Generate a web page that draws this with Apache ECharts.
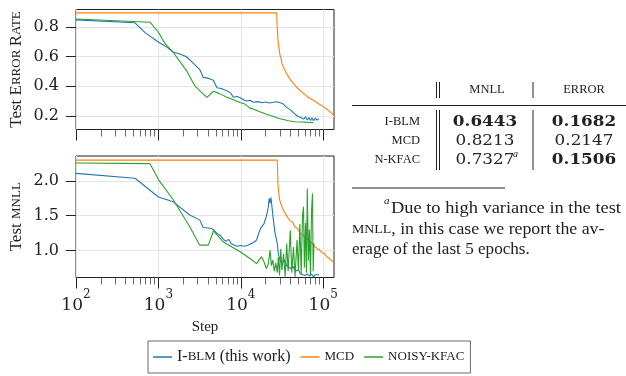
<!DOCTYPE html>
<html><head><meta charset="utf-8">
<script src="https://cdn.jsdelivr.net/npm/echarts@6/dist/echarts.min.js"></script>
<style>html,body{margin:0;padding:0;background:#fff}#c{width:626px;height:376px}</style>
</head><body><div id="c"></div><script>
// ---------- data ----------
const seriesNames = ['I-BLM (this work)', 'MCD', 'NOISY-KFAC'];
const xMin = 100, xMax = 135000;
const majorTicks = [100, 1000, 10000, 100000];
const minorTicks = [200,300,400,500,600,700,800,900,2000,3000,4000,5000,6000,7000,8000,9000,20000,30000,40000,50000,60000,70000,80000,90000];
const errorTicks = [0.2, 0.4, 0.6, 0.8];
const mnllTicks = [1.0, 1.5, 2.0];
const errorRange = [0.107, 0.92];
const mnllRange = [0.61, 2.36];

const iblmError = [[100,0.850],[520,0.830],[700,0.760],[1000,0.700],[1300,0.660],[1514,0.630],[1800,0.620],[2188,0.600],[2600,0.560],[3162,0.515],[3508,0.460],[4000,0.455],[4645,0.440],[5129,0.390],[5800,0.385],[6761,0.370],[7500,0.355],[8128,0.325],[9000,0.330],[10000,0.320],[11000,0.305],[11750,0.300],[13000,0.305],[14125,0.292],[16000,0.296],[18000,0.288],[20000,0.293],[22000,0.286],[25000,0.292],[27230,0.295],[30000,0.288],[32810,0.280],[35000,0.262],[37000,0.270],[40000,0.240],[42000,0.250],[43650,0.220],[46000,0.228],[48000,0.200],[50000,0.212],[52480,0.190],[55000,0.198],[58000,0.178],[61000,0.192],[64000,0.172],[67000,0.188],[70000,0.168],[73000,0.186],[76000,0.166],[80000,0.184],[84000,0.170],[88000,0.180]];
const mcdError = [[100,0.897],[27200,0.897],[27700,0.780],[28500,0.687],[29300,0.640],[30000,0.605],[30800,0.585],[31600,0.550],[32500,0.545],[33500,0.520],[34500,0.512],[36000,0.484],[37500,0.478],[39000,0.452],[40500,0.458],[42000,0.430],[44000,0.428],[46000,0.402],[48000,0.398],[50500,0.378],[53000,0.384],[55500,0.358],[58000,0.362],[61000,0.340],[64000,0.346],[67000,0.322],[70000,0.328],[74000,0.308],[78000,0.316],[82000,0.292],[86000,0.300],[90000,0.278],[95000,0.284],[100000,0.262],[105000,0.268],[110000,0.246],[115000,0.250],[120000,0.228],[125000,0.232],[130000,0.210],[135000,0.205]];
const nkfacError = [[100,0.856],[790,0.834],[1000,0.766],[1200,0.690],[1514,0.630],[1800,0.570],[2188,0.506],[2754,0.405],[3300,0.360],[3890,0.325],[4645,0.366],[5500,0.350],[6761,0.325],[8000,0.310],[9772,0.290],[11000,0.282],[12900,0.252],[14125,0.246],[17000,0.228],[20400,0.210],[25000,0.195],[29000,0.182],[32810,0.175],[38000,0.166],[45000,0.160],[55000,0.158],[65000,0.155],[76000,0.154]];

const iblmMnll = [[100,2.11],[520,2.04],[1000,1.77],[1514,1.70],[2400,1.51],[3162,1.44],[3500,1.33],[4300,1.32],[4650,1.30],[5129,1.245],[5600,1.22],[6150,1.16],[6600,1.13],[7100,1.16],[7600,1.10],[8900,1.06],[10000,1.07],[11000,1.06],[12300,1.077],[13500,1.10],[14500,1.12],[15500,1.15],[16500,1.25],[17800,1.34],[19000,1.38],[20400,1.49],[21500,1.62],[22100,1.75],[22600,1.68],[23200,1.76],[24000,1.60],[24800,1.44],[26000,1.25],[27700,1.10],[28500,0.95],[30000,0.85],[32000,0.82],[34000,0.86],[36000,0.78],[38000,0.80],[40000,0.74],[43000,0.77],[46000,0.70],[50000,0.72],[53000,0.66],[56000,0.68],[60000,0.64],[64000,0.66],[68000,0.63],[72000,0.66],[76000,0.62],[80000,0.65],[84000,0.63],[89000,0.65]];
const mcdMnll = [[100,2.30],[27700,2.30],[28200,1.95],[29500,1.73],[30500,1.68],[31500,1.63],[32500,1.61],[33500,1.56],[35000,1.54],[36300,1.49],[38000,1.48],[40000,1.42],[42500,1.41],[45000,1.34],[48500,1.32],[52500,1.245],[56000,1.23],[60000,1.18],[63500,1.17],[67000,1.13],[71000,1.12],[76000,1.08],[80000,1.07],[85000,1.02],[90000,1.01],[95000,0.97],[102000,0.96],[110000,0.91],[116000,0.90],[122000,0.87],[128000,0.86],[135000,0.82]];
const nkfacMnll = [[100,2.26],[790,2.25],[1000,2.02],[1514,1.73],[2400,1.34],[3162,1.077],[4030,1.077],[4650,1.28],[6150,1.12],[9800,0.98],[13000,0.88],[15500,0.81],[17800,0.91],[19000,0.84],[20400,0.74],[21500,0.80],[22600,1.00],[23500,0.78],[24400,0.86],[25500,0.70],[26500,0.82],[27700,0.68],[28500,0.90],[29500,0.64],[30500,1.02],[31500,0.72],[33000,0.95],[34500,0.62],[36000,1.10],[37500,0.70],[39800,1.29],[41500,0.68],[43500,1.05],[45500,0.62],[48000,1.15],[50000,0.72],[52000,1.38],[54000,0.66],[56000,1.50],[57600,1.63],[59000,0.75],[61000,1.40],[62500,0.68],[64000,1.89],[66000,0.85],[68000,1.30],[70000,0.64],[72000,1.55],[74000,1.82],[75500,0.70],[77000,1.10]];

const tableRows = ['I-BLM', 'MCD', 'N-KFAC'];
const tableMnll = ['0.6443', '0.8213', '0.7327'];
const tableError = ['0.1682', '0.2147', '0.1506'];
const tableBold = [[true, true], [false, false], [false, true]];

// ---------- styling ----------
const colors = ['#1f77b4', '#ff7f0e', '#2ca02c'];
const INK = '#222';
const SERIF = "'Liberation Serif', serif";
const NUM = "'DejaVu Serif', serif";

function xAxisMajor(gi, showLabel) {
  return {
    type: 'log', logBase: 10, gridIndex: gi, min: xMin, max: xMax, position: 'bottom',
    axisLine: {show: false},
    axisTick: {show: true, length: 11, customValues: majorTicks, lineStyle: {color: INK, width: 1}},
    axisLabel: {show: showLabel, customValues: majorTicks, margin: 11,
      formatter: v => '{b|10}{s|' + Math.round(Math.log10(v)) + '}',
      rich: {
        b: {fontFamily: NUM, fontSize: 17, color: INK, verticalAlign: 'bottom', lineHeight: 26},
        s: {fontFamily: NUM, fontSize: 12, color: INK, verticalAlign: 'top', lineHeight: 14}
      }},
    splitLine: {show: true, lineStyle: {color: '#e4e4e4', width: 1}},
    name: showLabel ? 'Step' : '', nameLocation: 'middle', nameGap: 42,
    nameTextStyle: {fontFamily: SERIF, fontSize: 15, color: INK}
  };
}
function xAxisMinor(gi) {
  return {
    type: 'log', logBase: 10, gridIndex: gi, min: xMin, max: xMax, position: 'bottom',
    axisLine: {show: false},
    axisTick: {show: true, length: 7, customValues: minorTicks, lineStyle: {color: '#444', width: 0.8}},
    axisLabel: {show: false}, splitLine: {show: false}
  };
}
function yAxis(gi, range, ticks, name) {
  return {
    type: 'value', gridIndex: gi, min: range[0], max: range[1],
    axisLine: {show: false},
    axisTick: {show: true, length: 10, customValues: ticks, lineStyle: {color: INK, width: 1}},
    axisLabel: {customValues: ticks, margin: 17, formatter: v => v.toFixed(1),
      fontFamily: NUM, fontSize: 16, color: INK},
    splitLine: {show: true, lineStyle: {color: '#e4e4e4', width: 1}},
    name: name, nameLocation: 'middle', nameRotate: 90, nameGap: 51,
    nameTextStyle: {rich: {
      n: {fontFamily: SERIF, fontSize: 17, color: INK},
      s: {fontFamily: SERIF, fontSize: 13, color: INK}
    }}
  };
}

function mkSeries(name, data, xi, yi, idx) {
  return {name, type: 'line', data, xAxisIndex: xi, yAxisIndex: yi, showSymbol: false, symbol: 'none',
    lineStyle: {color: colors[idx], width: 1.1}, itemStyle: {color: colors[idx]}, clip: true, z: 2 + idx};
}

// ---------- table graphics ----------
const g = [];
function txt(x, y, text, opts) {
  g.push(Object.assign({type: 'text', x, y, silent: true,
    style: Object.assign({x: 0, y: 0, text, textVerticalAlign: 'middle', fill: INK}, opts.style)},
    opts.el || {}));
}
function line(x1, y1, x2, y2, w) {
  g.push({type: 'line', silent: true, shape: {x1, y1, x2, y2}, style: {stroke: INK, lineWidth: w || 1}});
}
const scRich = {sc: {fontFamily: SERIF, fontSize: 12.5, fill: INK}};
// header
txt(487, 90, '{sc|MNLL}', {style: {textAlign: 'center', rich: scRich}});
txt(584, 90, '{sc|ERROR}', {style: {textAlign: 'center', rich: scRich}});
line(352, 105.5, 626, 105.5, 1);
[436.5, 439.5].forEach(x => { line(x, 82, x, 98); line(x, 110, x, 170); });
line(533, 82, 533, 98); line(533, 110, 533, 170);
const rowY = [122, 141, 160];
tableRows.forEach((r, i) => {
  txt(420, rowY[i], '{sc|' + r + '}', {style: {textAlign: 'right', rich: scRich}});
  const f0 = (tableBold[i][0] ? 'bold ' : '') + '15px ' + NUM;
  const f1 = (tableBold[i][1] ? 'bold ' : '') + '15px ' + NUM;
  txt(485, rowY[i], tableMnll[i], {style: {textAlign: 'center', font: f0}, el: {scaleX: 1.12}});
  txt(584, rowY[i], tableError[i], {style: {textAlign: 'center', font: f1}, el: {scaleX: 1.12}});
});
txt(513, rowY[2] - 6, 'a', {style: {textAlign: 'left', font: 'italic 10px ' + SERIF}});
// footnote
line(352, 188, 505, 188, 1);
txt(384, 201, 'a', {style: {textAlign: 'left', font: 'italic 11px ' + SERIF}});
txt(391, 209, 'Due to high variance in the test', {style: {textAlign: 'left', font: '16px ' + SERIF}, el: {scaleX: 1.15}});
txt(352, 230, '{sc|MNLL}{n|, in this case we report the av-}', {style: {textAlign: 'left',
  rich: {sc: {fontFamily: SERIF, fontSize: 12.5, fill: INK}, n: {fontFamily: SERIF, fontSize: 16, fill: INK}}}, el: {scaleX: 1.11}});
txt(352, 250, 'erage of the last 5 epochs.', {style: {textAlign: 'left', font: '16px ' + SERIF}, el: {scaleX: 1.07}});

// ---------- chart ----------
const chart = echarts.init(document.getElementById('c'), null, {renderer: 'canvas'});
const legendFmt = {
  'I-BLM (this work)': '{n|I-}{s|BLM}{n| (this work)}',
  'MCD': '{s|MCD}',
  'NOISY-KFAC': '{s|NOISY-KFAC}'
};
chart.setOption({
  animation: false,
  backgroundColor: '#fff',
  grid: [
    {left: 76, top: 9.5, width: 258, height: 120, show: true, borderColor: INK, borderWidth: 1, backgroundColor: 'transparent', outerBoundsMode: 'none', containLabel: false},
    {left: 76, top: 156, width: 258, height: 121.5, show: true, borderColor: INK, borderWidth: 1, backgroundColor: 'transparent', outerBoundsMode: 'none', containLabel: false}
  ],
  xAxis: [xAxisMajor(0, false), xAxisMinor(0), xAxisMajor(1, true), xAxisMinor(1)],
  yAxis: [
    yAxis(0, errorRange, errorTicks, '{n|Test E}{s|RROR} {n|R}{s|ATE}'),
    yAxis(1, mnllRange, mnllTicks, '{n|Test }{s|MNLL}')
  ],
  legend: {
    data: seriesNames, left: 148, top: 341, orient: 'horizontal', selectedMode: false,
    padding: [8, 6, 8, 5], itemGap: 10, itemWidth: 19, itemHeight: 1.5, icon: 'rect',
    borderColor: '#444', borderWidth: 0.8, borderRadius: 0,
    formatter: n => legendFmt[n],
    textStyle: {rich: {
      n: {fontFamily: SERIF, fontSize: 16, color: INK},
      s: {fontFamily: SERIF, fontSize: 13, color: INK}
    }}
  },
  series: [
    mkSeries(seriesNames[0], iblmError, 0, 0, 0),
    mkSeries(seriesNames[1], mcdError, 0, 0, 1),
    mkSeries(seriesNames[2], nkfacError, 0, 0, 2),
    mkSeries(seriesNames[0], iblmMnll, 2, 1, 0),
    mkSeries(seriesNames[1], mcdMnll, 2, 1, 1),
    mkSeries(seriesNames[2], nkfacMnll, 2, 1, 2)
  ],
  graphic: g
});
</script></body></html>
